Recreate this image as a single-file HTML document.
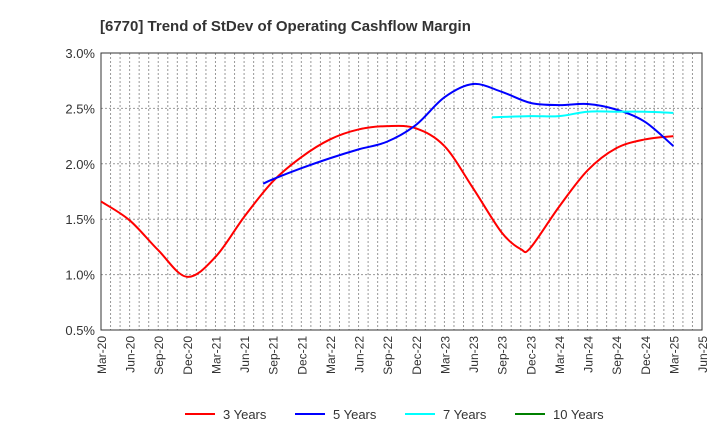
<!DOCTYPE html>
<html><head><meta charset="utf-8"><style>
body{margin:0;background:#fff;font-family:"Liberation Sans",Arial,sans-serif;}
</style></head><body>
<svg id="chart" width="720" height="440" xmlns="http://www.w3.org/2000/svg" font-family="Liberation Sans, Arial, sans-serif">
<text x="100" y="31" font-size="15" font-weight="bold" fill="#333">[6770]  Trend of StDev of Operating Cashflow Margin</text>
<g id="grid"></g><g id="axes"></g><g id="series"></g><g id="legend"></g>
</svg>
<script>
const xLabels=["Mar-20","Jun-20","Sep-20","Dec-20","Mar-21","Jun-21","Sep-21","Dec-21","Mar-22","Jun-22","Sep-22","Dec-22","Mar-23","Jun-23","Sep-23","Dec-23","Mar-24","Jun-24","Sep-24","Dec-24","Mar-25","Jun-25"];
const yTicks=[0.5,1.0,1.5,2.0,2.5,3.0];
const redDates=["Mar-20","Jun-20","Sep-20","Dec-20","Mar-21","Jun-21","Sep-21","Dec-21","Mar-22","Jun-22","Sep-22","Dec-22","Mar-23","Jun-23","Sep-23","Nov-23","Dec-23","Mar-24","Jun-24","Sep-24","Dec-24","Mar-25"];
const red=[1.66,1.49,1.22,0.98,1.16,1.52,1.84,2.06,2.22,2.31,2.34,2.32,2.16,1.78,1.38,1.23,1.24,1.61,1.94,2.14,2.22,2.25];
const blueDates=["Aug-21","Sep-21","Dec-21","Mar-22","Jun-22","Sep-22","Dec-22","Mar-23","Jun-23","Sep-23","Dec-23","Mar-24","Jun-24","Sep-24","Dec-24","Mar-25"];
const blue=[1.82,1.86,1.96,2.05,2.13,2.20,2.35,2.60,2.72,2.65,2.55,2.53,2.54,2.49,2.38,2.16];
const cyanDates=["Aug-23","Dec-23","Mar-24","Jun-24","Sep-24","Dec-24","Mar-25"];
const cyan=[2.42,2.43,2.43,2.47,2.47,2.47,2.46];
const greenDates=[];
const green=[];
const seriesNames=["3 Years","5 Years","7 Years","10 Years"];
const colors=["#ff0000","#0000ff","#00ffff","#008000"];

const L=101,R=702,T=53,B=330,NS="http://www.w3.org/2000/svg";
const MON=["Jan","Feb","Mar","Apr","May","Jun","Jul","Aug","Sep","Oct","Nov","Dec"];
const monthIdx=s=>{const [m,y]=s.split('-');return (parseInt(y)-20)*12+MON.indexOf(m)-2;};
const mw=(R-L)/((xLabels.length-1)*3);
const X=m=>L+m*mw;
const Y=v=>B-(v-0.5)/2.5*(B-T);
function mk(p,t,a){const e=document.createElementNS(NS,t);for(const k in a)e.setAttribute(k,a[k]);p.appendChild(e);return e;}
const grid=document.getElementById('grid'),axes=document.getElementById('axes'),ser=document.getElementById('series'),leg=document.getElementById('legend');
for(let m=1;m<(xLabels.length-1)*3;m++){
 const x=X(m);
 const g=mk(grid,'line',{x1:x,x2:x,y1:T,y2:B,stroke:'#999','stroke-dasharray':'2,2','stroke-width':1});
 
 
}
yTicks.forEach(v=>{
 const y=Y(v);
 if(v>0.5&&v<3.0){const g=mk(grid,'line',{x1:L,x2:R,y1:y,y2:y,stroke:'#999','stroke-dasharray':'2,2'});
 
 }
 const t=mk(axes,'text',{x:L-6,y:y+5,'text-anchor':'end','font-size':13,fill:'#333'});
 t.textContent=v.toFixed(1)+'%';
 
 
});
const box=mk(axes,'rect',{x:L,y:T,width:R-L,height:B-T,fill:'none',stroke:'#333'});


xLabels.forEach((s,i)=>{
 const x=X(monthIdx(s));
 const t=mk(axes,'text',{transform:`translate(${x+5},${B+6}) rotate(-90)`,'text-anchor':'end','font-size':12,fill:'#333'});
 t.textContent=s;
 
 
});
function path(vals,dates){
 const p=vals.map((v,i)=>[X(monthIdx(dates[i])),Y(v)]);
 if(p.length<2)return '';
 let d=`M${p[0][0]},${p[0][1]}`;
 for(let i=0;i<p.length-1;i++){
  const p0=p[i-1]||p[i],p1=p[i],p2=p[i+1],p3=p[i+2]||p2;
  d+=` C${p1[0]+(p2[0]-p0[0])/6},${p1[1]+(p2[1]-p0[1])/6} ${p2[0]-(p3[0]-p1[0])/6},${p2[1]-(p3[1]-p1[1])/6} ${p2[0]},${p2[1]}`;
 }
 return d;
}
[[red,redDates],[blue,blueDates],[cyan,cyanDates],[green,greenDates]].forEach((s,k)=>{
 const d=path(s[0],s[1]);
 if(d){const e=mk(ser,'path',{d:d,fill:'none',stroke:colors[k],'stroke-width':2});
 
 }
 const lx=185+k*110;
 const l=mk(leg,'line',{x1:lx,x2:lx+30,y1:414,y2:414,stroke:colors[k],'stroke-width':2});
 
 
 const t=mk(leg,'text',{x:lx+38,y:419,'font-size':13,fill:'#333'});
 t.textContent=seriesNames[k];
 
 
});
</script>
</body></html>
